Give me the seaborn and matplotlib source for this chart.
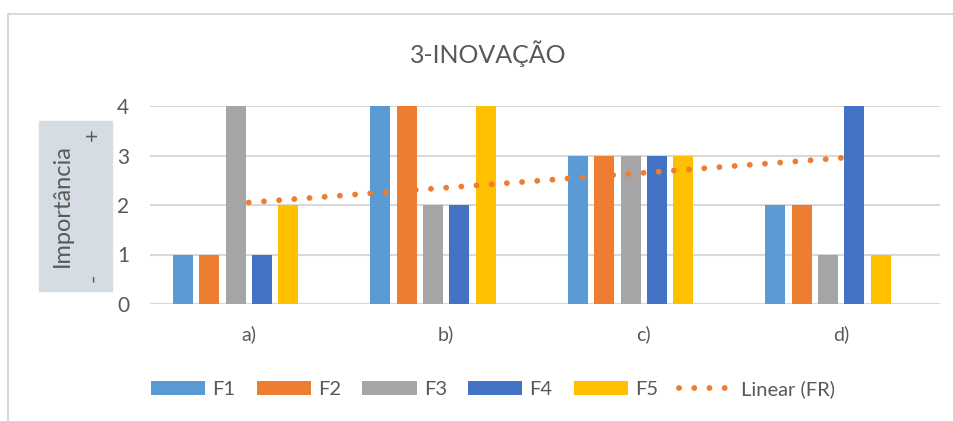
import numpy as np
import pandas as pd
import seaborn as sns
import matplotlib.pyplot as plt
from matplotlib.patches import Patch, Rectangle
from matplotlib.lines import Line2D

# --- data ---
categories = ['a)', 'b)', 'c)', 'd)']
series = ['F1', 'F2', 'F3', 'F4', 'F5']
F1 = [1, 4, 3, 2]
F2 = [1, 4, 3, 2]
F3 = [4, 2, 3, 1]
F4 = [1, 2, 3, 4]
F5 = [2, 4, 3, 1]
FR = [0, 0, 0, 0]            # hidden series, only its trend line shows
trend_fr = [2.05, 2.95]       # linear trend of FR at a) and d)
yticks = [0, 1, 2, 3, 4]

colors = ['#5B9BD5', '#ED7D31', '#A5A5A5', '#4472C4', '#FFC000']
txt = '#595959'
grid_c = '#D9D9D9'
dots = (0, (0.01, 2.6))

rows = []
for name, vals in zip(series + ['FR'], [F1, F2, F3, F4, F5, FR]):
    for c, v in zip(categories, vals):
        rows.append({'cat': c, 'serie': name, 'valor': v})
df = pd.DataFrame(rows)

sns.set_theme(style='white')
plt.rcParams['font.family'] = ['Lato', 'DejaVu Sans']

fig = plt.figure(figsize=(9.54, 4.21), dpi=100)
ax = fig.add_axes([150 / 954, 1 - 304 / 421, 790 / 954, 198 / 421])

sns.barplot(data=df, x='cat', y='valor', hue='serie', order=categories,
            hue_order=series + ['FR'], palette=colors + ['white'],
            width=0.8, gap=0.24, saturation=1, legend=False, ax=ax,
            errorbar=None, linewidth=0)
# hide the FR bars
for bar in ax.containers[-1]:
    bar.set_visible(False)
for cont in ax.containers:
    for bar in cont:
        bar.set_zorder(3)

# trend line (dotted)
ax.plot([0, 3], trend_fr, color='#ED7D31', lw=4.2, linestyle=dots,
        dash_capstyle='round', zorder=10)

ax.set_xlim(-0.5, 3.5)
ax.set_ylim(0, 4)
ax.set_yticks(yticks)
ax.yaxis.grid(True, color=grid_c, lw=1.5, zorder=0)
ax.set_axisbelow(True)
for s in ax.spines.values():
    s.set_visible(False)
ax.set_xlabel('')
ax.set_ylabel('')
ax.tick_params(axis='y', length=0, pad=15, labelsize=15, labelcolor=txt)
ax.tick_params(axis='x', length=0, pad=15, labelsize=14, labelcolor=txt)
ax.axhline(0, color=grid_c, lw=1.5, zorder=1)

# title
fig.text(488 / 954, 1 - 54 / 421, '3-INOVAÇÃO', ha='center', va='center',
         fontsize=18, color=txt)

# y-label box
fig.patches.append(Rectangle((39 / 954, 1 - 291 / 421), 73 / 954, 170 / 421,
                             transform=fig.transFigure, color='#D6DCE4', zorder=0))
fig.text(62 / 954, 1 - 206 / 421, 'Importância', rotation=90, ha='center',
         va='center', fontsize=17, color=txt)
fig.text(93 / 954, 1 - 135 / 421, '+', rotation=90, ha='center', va='center',
         fontsize=16, color=txt)
fig.text(93 / 954, 1 - 278 / 421, '-', rotation=90, ha='center', va='center',
         fontsize=16, color=txt)

# chart border (Excel chart area)
fig.add_artist(Line2D([8.5 / 954, 8.5 / 954, 1], [0, 1 - 13.5 / 421, 1 - 13.5 / 421],
                      transform=fig.transFigure, color=grid_c, lw=1.5))

# legend
handles = [Patch(facecolor=c, edgecolor='none') for c in colors]
handles.append(Line2D([0], [0], color='#ED7D31', lw=4.2, linestyle=dots,
                      dash_capstyle='round'))
labels = series + ['Linear (FR)']
fig.legend(handles, labels, loc='center', bbox_to_anchor=(493 / 954, 1 - 389 / 421),
           ncol=6, frameon=False, fontsize=14.5, labelcolor=txt,
           handlelength=2.7, handleheight=0.72, handletextpad=0.35,
           columnspacing=1.05)

fig.savefig('out.png', dpi=100)
